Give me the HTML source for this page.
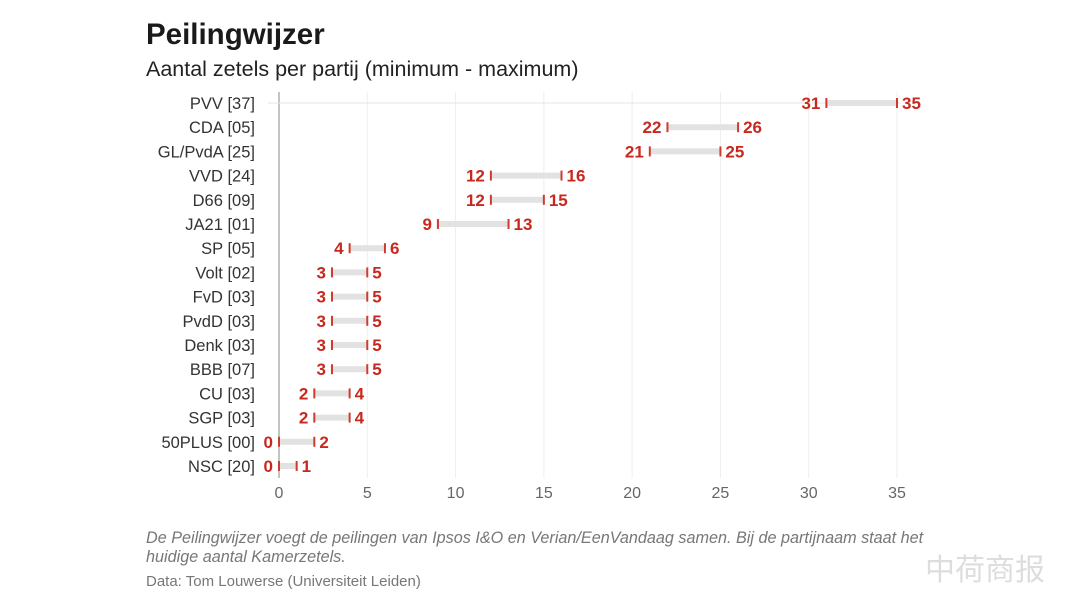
<!DOCTYPE html>
<html><head><meta charset="utf-8"><style>
body{margin:0;background:#fff;width:1080px;height:608px;overflow:hidden;font-family:"Liberation Sans",sans-serif}
svg text{font-family:"Liberation Sans",sans-serif}
</style></head><body>
<svg id="chart" width="1080" height="608">
<text x="146" y="44" font-size="29.5" font-weight="bold" fill="#1a1a1a">Peilingwijzer</text>
<text x="146" y="76" font-size="21.5" fill="#222">Aantal zetels per partij (minimum - maximum)</text>
<g id="grid"></g><g id="marks"></g>
<text x="146" y="543" font-size="16.2" font-style="italic" fill="#777">De Peilingwijzer voegt de peilingen van Ipsos I&amp;O en Verian/EenVandaag samen. Bij de partijnaam staat het</text>
<text x="146" y="562" font-size="16.2" font-style="italic" fill="#777">huidige aantal Kamerzetels.</text>
<text x="146" y="586" font-size="15" fill="#777">Data: Tom Louwerse (Universiteit Leiden)</text>
<text x="925" y="580" font-size="30" fill="#ddd" font-family="Noto Sans CJK SC,sans-serif">中荷商报</text>
</svg>
<script>
const parties=["PVV [37]","CDA [05]","GL/PvdA [25]","VVD [24]","D66 [09]","JA21 [01]","SP [05]","Volt [02]","FvD [03]","PvdD [03]","Denk [03]","BBB [07]","CU [03]","SGP [03]","50PLUS [00]","NSC [20]"];
const minVals=[31,22,21,12,12,9,4,3,3,3,3,3,2,2,0,0];
const maxVals=[35,26,25,16,15,13,6,5,5,5,5,5,4,4,2,1];
const ticks=[0,5,10,15,20,25,30,35];
const NS="http://www.w3.org/2000/svg";
const xs=v=>279+v*(618/35);
const ys=i=>103+i*24.2;
const gridG=document.getElementById('grid'),marksG=document.getElementById('marks');
function mk(tag,attrs,parent,txt){const e=document.createElementNS(NS,tag);for(const k in attrs)e.setAttribute(k,attrs[k]);if(txt!==undefined)e.textContent=txt;parent.appendChild(e);return e;}
ticks.forEach(t=>{
  const l=mk('line',{x1:xs(t),x2:xs(t),y1:92,y2:478,stroke:t===0?'#888':'#eee','stroke-width':1},gridG);
  
  
  const tx=mk('text',{x:xs(t),y:498,'font-size':16,fill:'#666','text-anchor':'middle'},gridG,t);
  
  
});
const topRule=mk('line',{x1:268,x2:900,y1:103,y2:103,stroke:'#e4e4e4','stroke-width':1},gridG);


parties.forEach((p,i)=>{
  const yy=ys(i);
  const lab=mk('text',{x:255,y:yy+6,'font-size':16.5,fill:'#333','text-anchor':'end'},marksG,p);
  
  
  const b=mk('line',{x1:xs(minVals[i]),x2:xs(maxVals[i]),y1:yy,y2:yy,stroke:'#e2e2e2','stroke-width':6},marksG);
  
  
  [minVals[i],maxVals[i]].forEach((v,j)=>{
    const m=mk('line',{x1:xs(v),x2:xs(v),y1:yy-5,y2:yy+5,stroke:'#d03a2c','stroke-width':2},marksG);
    
    
    const t=mk('text',{x:xs(v)+(j?5:-6),y:yy+6,'font-size':17,'font-weight':'bold',fill:'#c8281e','text-anchor':j?'start':'end'},marksG,v);
    
    
  });
});
</script>
</body></html>
